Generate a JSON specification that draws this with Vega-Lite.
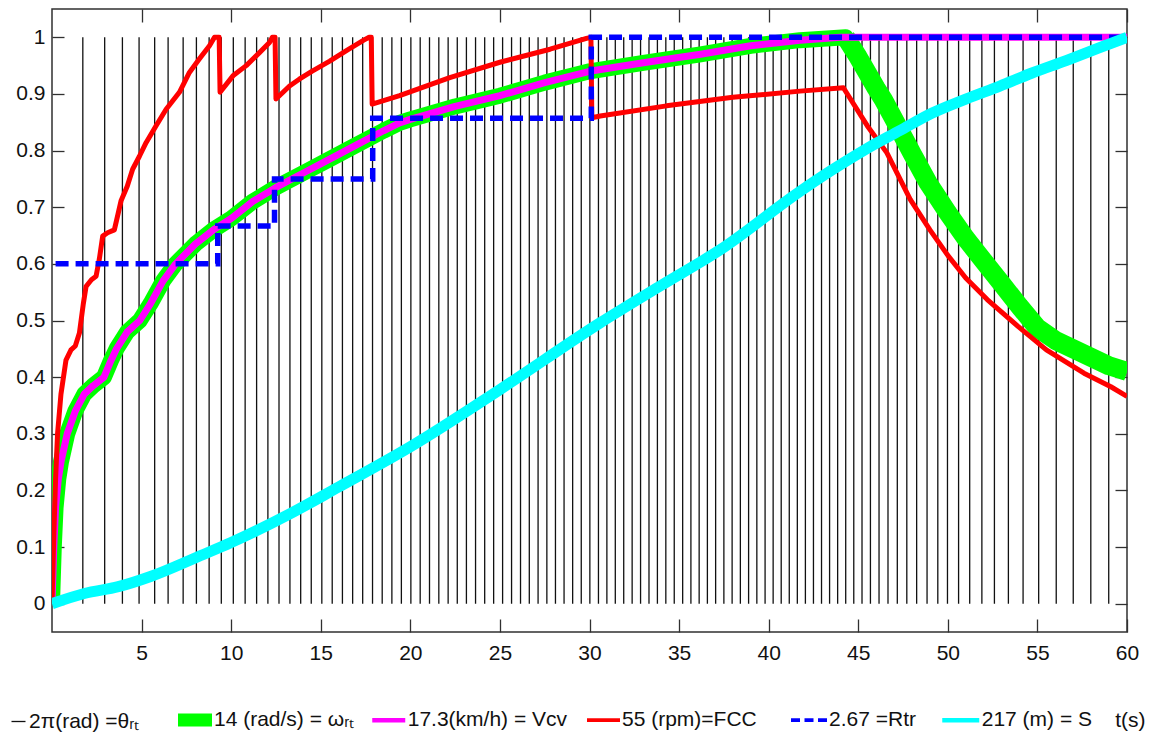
{
  "$schema": "https://vega.github.io/schema/vega-lite/v6.json",
  "width": 1075,
  "height": 623,
  "autosize": "none",
  "padding": {"left": 52, "top": 9, "right": 24, "bottom": 104},
  "background": "white",
  "config": {
    "view": {"stroke": "#303030", "strokeWidth": 1.5},
    "font": "Liberation Sans",
    "legend": {"title": null, "orient": "none", "direction": "horizontal", "symbolType": "stroke", "labelFontSize": 21, "labelFont": "Liberation Sans", "labelColor": "#111111", "labelOffset": 0, "labelLimit": 0, "padding": 0}
  },
  "datasets": {
    "theta": [
      {"t": 1.72}, {"t": 2.94}, {"t": 3.93}, {"t": 4.86}, {"t": 5.73}, {"t": 6.48}, {"t": 7.32}, {"t": 8.06},
      {"t": 8.77}, {"t": 9.45}, {"t": 10.12}, {"t": 10.78}, {"t": 11.42}, {"t": 12.05}, {"t": 12.67}, {"t": 13.28},
      {"t": 13.88}, {"t": 14.47}, {"t": 15.06}, {"t": 15.64}, {"t": 16.21}, {"t": 16.78}, {"t": 17.34}, {"t": 17.89},
      {"t": 18.43}, {"t": 18.97}, {"t": 19.5}, {"t": 20.03}, {"t": 20.55}, {"t": 21.07}, {"t": 21.59}, {"t": 22.11},
      {"t": 22.62}, {"t": 23.13}, {"t": 23.64}, {"t": 24.15}, {"t": 24.65}, {"t": 25.15}, {"t": 25.65}, {"t": 26.15},
      {"t": 26.64}, {"t": 27.13}, {"t": 27.62}, {"t": 28.1}, {"t": 28.58}, {"t": 29.06}, {"t": 29.54}, {"t": 30.02},
      {"t": 30.5}, {"t": 30.97}, {"t": 31.44}, {"t": 31.91}, {"t": 32.38}, {"t": 32.85}, {"t": 33.32}, {"t": 33.79},
      {"t": 34.26}, {"t": 34.73}, {"t": 35.2}, {"t": 35.66}, {"t": 36.12}, {"t": 36.58}, {"t": 37.04}, {"t": 37.5},
      {"t": 37.96}, {"t": 38.42}, {"t": 38.88}, {"t": 39.34}, {"t": 39.8}, {"t": 40.25}, {"t": 40.7}, {"t": 41.15},
      {"t": 41.6}, {"t": 42.05}, {"t": 42.5}, {"t": 42.95}, {"t": 43.4}, {"t": 43.85}, {"t": 44.3}, {"t": 44.75},
      {"t": 45.21}, {"t": 45.68}, {"t": 46.16}, {"t": 46.66}, {"t": 47.18}, {"t": 47.71}, {"t": 48.26}, {"t": 48.84},
      {"t": 49.44}, {"t": 49.98}, {"t": 50.6}, {"t": 51.22}, {"t": 51.9}, {"t": 52.6}, {"t": 53.38}, {"t": 54.2},
      {"t": 55.07}, {"t": 56.05}, {"t": 57.0}, {"t": 57.98}, {"t": 58.98}
    ],
    "omega": [
      {"t": 0, "v": 0}, {"t": 0.1, "v": 0.1}, {"t": 0.2, "v": 0.17}, {"t": 0.35, "v": 0.22}, {"t": 0.5, "v": 0.25},
      {"t": 0.85, "v": 0.3}, {"t": 1.3, "v": 0.34}, {"t": 1.8, "v": 0.37}, {"t": 2.3, "v": 0.385}, {"t": 2.9, "v": 0.4},
      {"t": 3.3, "v": 0.43}, {"t": 3.6, "v": 0.45}, {"t": 4.2, "v": 0.48}, {"t": 4.9, "v": 0.5}, {"t": 5.5, "v": 0.53},
      {"t": 6.2, "v": 0.57}, {"t": 6.9, "v": 0.6}, {"t": 8, "v": 0.635}, {"t": 9, "v": 0.66}, {"t": 10, "v": 0.68},
      {"t": 11.2, "v": 0.71}, {"t": 12.5, "v": 0.735}, {"t": 14, "v": 0.76}, {"t": 15.5, "v": 0.785}, {"t": 17, "v": 0.81},
      {"t": 18.5, "v": 0.835}, {"t": 19.4, "v": 0.849}, {"t": 20, "v": 0.855}, {"t": 22.5, "v": 0.878}, {"t": 25, "v": 0.897},
      {"t": 27.5, "v": 0.92}, {"t": 30, "v": 0.94}, {"t": 33, "v": 0.955}, {"t": 36.2, "v": 0.97}, {"t": 39, "v": 0.985},
      {"t": 41.75, "v": 0.995}, {"t": 44.3, "v": 1.0}, {"t": 45, "v": 0.965}, {"t": 46, "v": 0.91}, {"t": 46.4, "v": 0.89},
      {"t": 47, "v": 0.855}, {"t": 48, "v": 0.795}, {"t": 48.9, "v": 0.743}, {"t": 50, "v": 0.69}, {"t": 51, "v": 0.645},
      {"t": 52, "v": 0.605}, {"t": 53, "v": 0.565}, {"t": 54, "v": 0.525}, {"t": 55, "v": 0.487}, {"t": 56, "v": 0.465},
      {"t": 57, "v": 0.45}, {"t": 58, "v": 0.435}, {"t": 59, "v": 0.42}, {"t": 60, "v": 0.41}
    ],
    "omegaFall": [
      {"t": 44.3, "v": 1.0}, {"t": 45, "v": 0.965}, {"t": 46, "v": 0.91}, {"t": 46.4, "v": 0.89},
      {"t": 47, "v": 0.855}, {"t": 48, "v": 0.795}, {"t": 48.9, "v": 0.743}, {"t": 50, "v": 0.69}, {"t": 51, "v": 0.645},
      {"t": 52, "v": 0.605}, {"t": 53, "v": 0.565}, {"t": 54, "v": 0.525}, {"t": 55, "v": 0.487}, {"t": 56, "v": 0.465},
      {"t": 57, "v": 0.45}, {"t": 58, "v": 0.435}, {"t": 59, "v": 0.42}, {"t": 60, "v": 0.41}
    ],
    "vcv": [
      {"t": 0, "v": 0}, {"t": 0.1, "v": 0.1}, {"t": 0.2, "v": 0.17}, {"t": 0.35, "v": 0.22}, {"t": 0.5, "v": 0.25},
      {"t": 0.85, "v": 0.3}, {"t": 1.3, "v": 0.34}, {"t": 1.8, "v": 0.37}, {"t": 2.3, "v": 0.385}, {"t": 2.9, "v": 0.4},
      {"t": 3.3, "v": 0.43}, {"t": 3.6, "v": 0.45}, {"t": 4.2, "v": 0.48}, {"t": 4.9, "v": 0.5}, {"t": 5.5, "v": 0.53},
      {"t": 6.2, "v": 0.57}, {"t": 6.9, "v": 0.6}, {"t": 8, "v": 0.635}, {"t": 9, "v": 0.66}, {"t": 10, "v": 0.68},
      {"t": 11.2, "v": 0.71}, {"t": 12.5, "v": 0.735}, {"t": 14, "v": 0.76}, {"t": 15.5, "v": 0.785}, {"t": 17, "v": 0.81},
      {"t": 18.5, "v": 0.835}, {"t": 19.4, "v": 0.849}, {"t": 20, "v": 0.855}, {"t": 22.5, "v": 0.878}, {"t": 25, "v": 0.897},
      {"t": 27.5, "v": 0.92}, {"t": 30, "v": 0.94}, {"t": 33, "v": 0.955}, {"t": 36.2, "v": 0.97}, {"t": 39, "v": 0.985},
      {"t": 41.75, "v": 0.995}, {"t": 44, "v": 1.0}, {"t": 60, "v": 1.0}
    ],
    "fcc": [
      {"t": 0, "v": 0}, {"t": 0.1, "v": 0.12}, {"t": 0.2, "v": 0.22}, {"t": 0.31, "v": 0.3}, {"t": 0.5, "v": 0.37},
      {"t": 0.78, "v": 0.43}, {"t": 1.06, "v": 0.448}, {"t": 1.3, "v": 0.455}, {"t": 1.53, "v": 0.478}, {"t": 1.75, "v": 0.53},
      {"t": 1.9, "v": 0.56}, {"t": 2.2, "v": 0.572}, {"t": 2.46, "v": 0.578}, {"t": 2.64, "v": 0.608}, {"t": 2.83, "v": 0.649},
      {"t": 3.1, "v": 0.655}, {"t": 3.48, "v": 0.66}, {"t": 3.7, "v": 0.69}, {"t": 3.86, "v": 0.712}, {"t": 4.2, "v": 0.737},
      {"t": 4.5, "v": 0.767}, {"t": 4.88, "v": 0.79}, {"t": 5.25, "v": 0.814}, {"t": 5.81, "v": 0.844}, {"t": 6.37, "v": 0.873},
      {"t": 7.11, "v": 0.903}, {"t": 7.67, "v": 0.938}, {"t": 8.23, "v": 0.962}, {"t": 8.79, "v": 0.985}, {"t": 9.07, "v": 1.0},
      {"t": 9.33, "v": 1.0}, {"t": 9.38, "v": 0.903}, {"t": 10.1, "v": 0.932}, {"t": 10.84, "v": 0.95}, {"t": 11.58, "v": 0.973},
      {"t": 12.14, "v": 0.991}, {"t": 12.3, "v": 1.0}, {"t": 12.45, "v": 1.0}, {"t": 12.5, "v": 0.891}, {"t": 13.26, "v": 0.914},
      {"t": 13.8, "v": 0.926}, {"t": 14.5, "v": 0.94}, {"t": 15.5, "v": 0.958}, {"t": 16.5, "v": 0.978}, {"t": 17.4, "v": 0.995},
      {"t": 17.7, "v": 1.0}, {"t": 17.82, "v": 1.0}, {"t": 17.87, "v": 0.882}, {"t": 19.4, "v": 0.897}, {"t": 22.2, "v": 0.929},
      {"t": 25, "v": 0.956}, {"t": 27.8, "v": 0.979}, {"t": 29.83, "v": 0.998}, {"t": 30.08, "v": 1.0}, {"t": 30.13, "v": 0.858},
      {"t": 30.6, "v": 0.861}, {"t": 34.3, "v": 0.879}, {"t": 38, "v": 0.894}, {"t": 41.75, "v": 0.905}, {"t": 44.17, "v": 0.911},
      {"t": 45.5, "v": 0.844}, {"t": 46.6, "v": 0.796}, {"t": 47.9, "v": 0.714}, {"t": 49, "v": 0.66}, {"t": 50, "v": 0.615},
      {"t": 51, "v": 0.575}, {"t": 52.2, "v": 0.537}, {"t": 53.9, "v": 0.49}, {"t": 55.5, "v": 0.448}, {"t": 57.6, "v": 0.407},
      {"t": 59.1, "v": 0.383}, {"t": 60, "v": 0.366}
    ],
    "rtr": [
      {"t": 0.2, "v": 0.6}, {"t": 9.25, "v": 0.667}, {"t": 12.42, "v": 0.75}, {"t": 17.9, "v": 0.857}, {"t": 30.1, "v": 1.0}, {"t": 60, "v": 1.0}
    ],
    "dist": [
      {"t": 0, "v": 0}, {"t": 1.8, "v": 0.018}, {"t": 3.7, "v": 0.03}, {"t": 5.5, "v": 0.048}, {"t": 8.3, "v": 0.085},
      {"t": 10, "v": 0.108}, {"t": 13.3, "v": 0.159}, {"t": 16, "v": 0.206}, {"t": 20, "v": 0.277}, {"t": 25, "v": 0.378},
      {"t": 30.6, "v": 0.496}, {"t": 34, "v": 0.562}, {"t": 37.3, "v": 0.625}, {"t": 41.7, "v": 0.727}, {"t": 43.5, "v": 0.765},
      {"t": 45.4, "v": 0.802}, {"t": 47.3, "v": 0.835}, {"t": 49.1, "v": 0.866}, {"t": 51, "v": 0.891}, {"t": 52.9, "v": 0.914},
      {"t": 54.7, "v": 0.937}, {"t": 56.6, "v": 0.959}, {"t": 58.4, "v": 0.981}, {"t": 60, "v": 1.0}
    ]
  },
  "layer": [
    {
      "data": {"name": "theta"},
      "mark": {"type": "rule", "clip": true, "strokeWidth": 1.3},
      "encoding": {
        "x": {
          "field": "t", "type": "quantitative",
          "scale": {"domain": [0, 60], "nice": false, "zero": false},
          "axis": {
            "orient": "bottom", "values": [5, 10, 15, 20, 25, 30, 35, 40, 45, 50, 55, 60],
            "tickSize": -13, "tickColor": "#303030", "tickWidth": 1.3, "labelPadding": 23,
            "labelFontSize": 21, "labelFont": "Liberation Sans", "labelColor": "#111111",
            "labelFlush": false, "labelOverlap": false, "domain": false, "grid": false,
            "title": "t(s)", "titleFont": "Liberation Sans", "titleFontSize": 21, "titleFontWeight": "normal",
            "titleColor": "#111111", "titleAlign": "right", "titleBaseline": "middle", "titleX": 1093, "titleY": 88
          }
        },
        "y": {
          "datum": 0, "type": "quantitative",
          "scale": {"domain": [-0.05, 1.05], "nice": false, "zero": false},
          "axis": {
            "orient": "left", "values": [0, 0.1, 0.2, 0.3, 0.4, 0.5, 0.6, 0.7, 0.8, 0.9, 1], "format": ".1~f",
            "tickSize": -12, "tickColor": "#303030", "tickWidth": 1.3, "labelPadding": 19,
            "labelFontSize": 21, "labelFont": "Liberation Sans", "labelColor": "#111111",
            "labelFlush": false, "labelOverlap": false, "domain": false, "grid": false, "title": null
          }
        },
        "y2": {"datum": 1},
        "color": {
          "datum": "2π(rad) =θᵣₜ", "type": "nominal",
          "scale": {"range": ["#111111"]},
          "legend": {"legendX": -44, "legendY": 702, "symbolSize": 196, "symbolStrokeWidth": 1.3}
        }
      }
    },
    {
      "data": {"name": "omega"},
      "mark": {"type": "line", "clip": true, "strokeJoin": "round", "strokeWidth": 16},
      "encoding": {
        "x": {"field": "t", "type": "quantitative",
          "axis": {"orient": "top", "values": [5, 10, 15, 20, 25, 30, 35, 40, 45, 50, 55, 60], "tickSize": -13, "tickColor": "#303030", "tickWidth": 1.3, "labels": false, "domain": false, "grid": false, "title": null}},
        "y": {"field": "v", "type": "quantitative",
          "axis": {"orient": "right", "values": [0, 0.1, 0.2, 0.3, 0.4, 0.5, 0.6, 0.7, 0.8, 0.9, 1], "tickSize": -12, "tickColor": "#303030", "tickWidth": 1.3, "labels": false, "domain": false, "grid": false, "title": null}},
        "color": {
          "datum": "14 (rad/s) = ωᵣₜ", "type": "nominal",
          "scale": {"range": ["#00ff00"]},
          "legend": {"legendX": 119.5, "legendY": 687.5, "symbolSize": 1156, "symbolStrokeWidth": 13, "labelOffset": -4.5}
        }
      }
    },
    {
      "data": {"name": "omegaFall"},
      "mark": {"type": "line", "clip": true, "strokeJoin": "round", "strokeWidth": 19},
      "encoding": {
        "x": {"field": "t", "type": "quantitative", "axis": null},
        "y": {"field": "v", "type": "quantitative", "axis": null},
        "color": {"datum": "14 (rad/s) = ωᵣₜ ", "type": "nominal", "scale": {"range": ["#00ff00"]}, "legend": null}
      }
    },
    {
      "data": {"name": "vcv"},
      "mark": {"type": "line", "clip": true, "strokeJoin": "round", "strokeWidth": 7},
      "encoding": {
        "x": {"field": "t", "type": "quantitative", "axis": null},
        "y": {"field": "v", "type": "quantitative", "axis": null},
        "color": {
          "datum": "17.3(km/h) = Vcv", "type": "nominal",
          "scale": {"range": ["#ff00ff"]},
          "legend": {"legendX": 317.75, "legendY": 692.25, "symbolSize": 1089, "symbolStrokeWidth": 4.5}
        }
      }
    },
    {
      "data": {"name": "fcc"},
      "mark": {"type": "line", "clip": true, "strokeJoin": "round", "strokeWidth": 5},
      "encoding": {
        "x": {"field": "t", "type": "quantitative", "axis": null},
        "y": {"field": "v", "type": "quantitative", "axis": null},
        "color": {
          "datum": "55 (rpm)=FCC", "type": "nominal",
          "scale": {"range": ["#ff0000"]},
          "legend": {"legendX": 533, "legendY": 692.6, "symbolSize": 1089, "symbolStrokeWidth": 3.7}
        }
      }
    },
    {
      "data": {"name": "rtr"},
      "mark": {"type": "line", "clip": true, "interpolate": "step-after", "strokeWidth": 5.5, "strokeDash": [13, 7]},
      "encoding": {
        "x": {"field": "t", "type": "quantitative", "axis": null},
        "y": {"field": "v", "type": "quantitative", "axis": null},
        "color": {
          "datum": "2.67 =Rtr", "type": "nominal",
          "scale": {"range": ["#0000ff"]},
          "legend": {"legendX": 737, "legendY": 691.1, "symbolSize": 1296, "symbolStrokeWidth": 3.7, "symbolDash": [9, 4.5]}
        }
      }
    },
    {
      "data": {"name": "dist"},
      "mark": {"type": "line", "clip": true, "interpolate": "monotone", "strokeWidth": 11},
      "encoding": {
        "x": {"field": "t", "type": "quantitative", "axis": null},
        "y": {"field": "v", "type": "quantitative", "axis": null},
        "color": {
          "datum": "217 (m) = S", "type": "nominal",
          "scale": {"range": ["#00ffff"]},
          "legend": {"legendX": 887.75, "legendY": 690.25, "symbolSize": 1369, "symbolStrokeWidth": 4.5}
        }
      }
    }
  ],
  "resolve": {
    "axis": {"x": "independent", "y": "independent"},
    "scale": {"color": "independent"},
    "legend": {"color": "independent"}
  }
}
